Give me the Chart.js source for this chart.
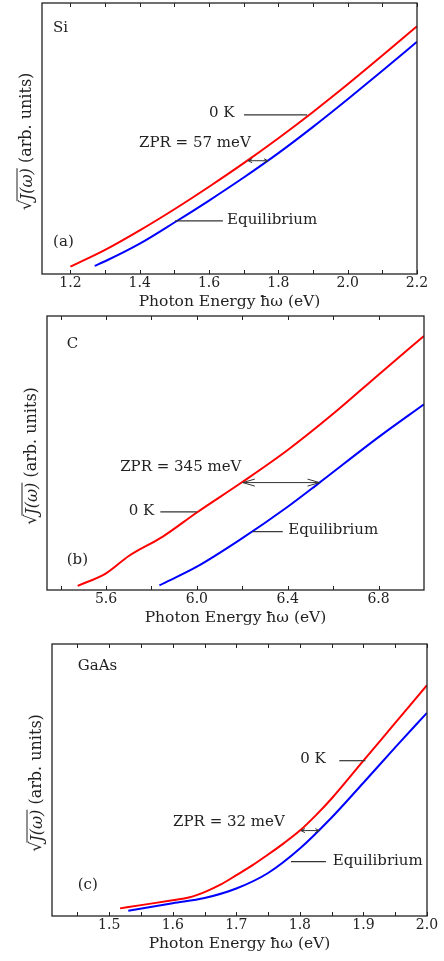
<!DOCTYPE html>
<html>
<head>
<meta charset="utf-8">
<script src="https://cdn.jsdelivr.net/npm/chart.js@4.4.1/dist/chart.umd.min.js"></script>
<style>
  body { margin: 0; background: #fff; }
  canvas { display: block; }
</style>
</head>
<body>
<canvas id="si" width="444" height="310"></canvas>
<canvas id="dia" width="444" height="330"></canvas>
<canvas id="gaas" width="444" height="321"></canvas>
<script>
// (a) Si
const siEnergy0K = [1.2, 1.3, 1.4, 1.5, 1.6, 1.7, 1.8, 1.9, 2.0, 2.1, 2.2];
const si0K = [0.027, 0.089, 0.161, 0.239, 0.322, 0.409, 0.501, 0.598, 0.700, 0.806, 0.914];
const siEnergyEq = [1.27, 1.3, 1.4, 1.5, 1.6, 1.7, 1.8, 1.9, 2.0, 2.1, 2.2];
const siEq = [0.030, 0.047, 0.112, 0.190, 0.271, 0.356, 0.446, 0.543, 0.645, 0.750, 0.857];
const siTicks = [1.2, 1.4, 1.6, 1.8, 2.0, 2.2];
const siMinor = [1.2, 1.3, 1.4, 1.5, 1.6, 1.7, 1.8, 1.9, 2.0, 2.1, 2.2];

// (b) C
const cEnergy0K = [5.475, 5.6, 5.7, 5.85, 6.0, 6.2, 6.4, 6.6, 6.8, 7.0];
const c0K = [0.015, 0.061, 0.124, 0.195, 0.283, 0.394, 0.511, 0.643, 0.786, 0.927];
const cEnergyEq = [5.835, 6.0, 6.187, 6.4, 6.54, 6.8, 7.0];
const cEq = [0.017, 0.085, 0.182, 0.304, 0.392, 0.558, 0.678];
const cTicks = [5.6, 6.0, 6.4, 6.8];
const cMinor = [5.4, 5.6, 5.8, 6.0, 6.2, 6.4, 6.6, 6.8];

// (c) GaAs
const gaasEnergy0K = [1.517, 1.55, 1.6, 1.625, 1.65, 1.675, 1.7, 1.725, 1.75, 1.775, 1.8, 1.825, 1.85, 1.9, 1.95, 2.0];
const gaas0K = [0.028, 0.040, 0.058, 0.068, 0.088, 0.115, 0.150, 0.186, 0.226, 0.268, 0.314, 0.370, 0.432, 0.571, 0.710, 0.849];
const gaasEnergyEq = [1.53, 1.6, 1.65, 1.7, 1.75, 1.8, 1.85, 1.9, 1.95, 2.0];
const gaasEq = [0.019, 0.047, 0.066, 0.101, 0.158, 0.248, 0.362, 0.490, 0.620, 0.747];
const gaasTicks = [1.5, 1.6, 1.7, 1.8, 1.9, 2.0];
const gaasMinor = [1.45, 1.5, 1.55, 1.6, 1.65, 1.7, 1.75, 1.8, 1.85, 1.9, 1.95, 2.0];

// annotations, in data units: [x, y, text], leaders [x1, x2, y], arrows [x1, x2, y]
const siNotes = [[1.150, 0.908, 'Si'], [1.150, 0.118, '(a)'], [1.600, 0.594, '0 K'],
                 [1.398, 0.483, 'ZPR = 57 meV'], [1.652, 0.199, 'Equilibrium']];
const siLeaders = [[1.701, 1.883, 0.587], [1.502, 1.640, 0.196]];
const siArrows = [[1.713, 1.770, 0.418]];

const cNotes = [[5.427, 0.897, 'C'], [5.427, 0.109, '(b)'], [5.662, 0.450, 'ZPR = 345 meV'],
                [5.700, 0.288, '0 K'], [6.402, 0.219, 'Equilibrium']];
const cLeaders = [[5.839, 6.0, 0.285], [6.246, 6.378, 0.213]];
const cArrows = [[6.202, 6.540, 0.392]];

const gaasNotes = [[1.4505, 0.919, 'GaAs'], [1.4505, 0.114, '(c)'], [1.8005, 0.577, '0 K'],
                   [1.6005, 0.347, 'ZPR = 32 meV'], [1.8516, 0.202, 'Equilibrium']];
const gaasLeaders = [[1.862, 1.903, 0.571], [1.786, 1.841, 0.200]];
const gaasArrows = [[1.8016, 1.8305, 0.314]];

const FONT = "'DejaVu Serif', serif";
const INK = '#222';

const zip = (xs, ys) => xs.map((v, i) => ({x: v, y: ys[i]}));

// frame, inward ticks, notes and y title, all placed through the chart scales
const panelPlugin = {
  id: 'panel',
  afterDatasetsDraw(chart, args, opts) {
    const {ctx, chartArea: a, scales: {x, y}} = chart;
    ctx.save();
    ctx.strokeStyle = INK;
    ctx.lineWidth = 1.3;
    ctx.strokeRect(a.left, a.top, a.right - a.left, a.bottom - a.top);

    ctx.lineWidth = 1;
    opts.minor.forEach(v => {
      const px = Math.round(x.getPixelForValue(v)) + 0.5;
      ctx.beginPath();
      ctx.moveTo(px, a.bottom); ctx.lineTo(px, a.bottom - 4);
      ctx.moveTo(px, a.top); ctx.lineTo(px, a.top + 4);
      ctx.stroke();
    });

    ctx.fillStyle = INK;
    ctx.font = '15px ' + FONT;
    ctx.textAlign = 'left';
    ctx.textBaseline = 'middle';
    opts.notes.forEach(([nx, ny, t]) => {
      ctx.fillText(t, x.getPixelForValue(nx), y.getPixelForValue(ny));
    });

    ctx.strokeStyle = '#333';
    ctx.lineWidth = 1.2;
    opts.leaders.forEach(([x1, x2, ly]) => {
      const py = y.getPixelForValue(ly);
      ctx.beginPath();
      ctx.moveTo(x.getPixelForValue(x1), py);
      ctx.lineTo(x.getPixelForValue(x2), py);
      ctx.stroke();
    });

    ctx.lineWidth = 1;
    const [h, k] = opts.head;
    opts.arrows.forEach(([x1, x2, ly]) => {
      const py = y.getPixelForValue(ly);
      const p1 = x.getPixelForValue(x1), p2 = x.getPixelForValue(x2);
      ctx.beginPath();
      ctx.moveTo(p1, py); ctx.lineTo(p2, py);
      ctx.moveTo(p1 + h, py - k); ctx.lineTo(p1, py); ctx.lineTo(p1 + h, py + k);
      ctx.moveTo(p2 - h, py - k); ctx.lineTo(p2, py); ctx.lineTo(p2 - h, py + k);
      ctx.stroke();
    });

    // y title: sqrt(J(omega)) (arb. units), rotated
    ctx.translate(a.left - 15, (a.top + a.bottom) / 2 + 3);
    ctx.rotate(-Math.PI / 2);
    const s1 = '√', s2 = 'J(ω)', s3 = ' (arb. units)';
    ctx.font = '16px ' + FONT;
    const w1 = ctx.measureText(s1).width, w3 = ctx.measureText(s3).width;
    ctx.font = 'italic 16px ' + FONT;
    const w2 = ctx.measureText(s2).width;
    let cx = -(w1 + w2 + w3) / 2;
    ctx.font = '16px ' + FONT;
    ctx.fillText(s1, cx, 0);
    cx += w1;
    ctx.font = 'italic 16px ' + FONT;
    ctx.fillText(s2, cx, 1);
    ctx.lineWidth = 1;
    ctx.strokeStyle = INK;
    ctx.beginPath();
    ctx.moveTo(cx - 1, -10); ctx.lineTo(cx + w2, -10);
    ctx.stroke();
    cx += w2;
    ctx.font = '16px ' + FONT;
    ctx.fillText(s3, cx, 0);
    ctx.restore();
  }
};

function makePanel(id, zero, eq, range, ticks, minor, notes, leaders, arrows, head, pad, axisH) {
  return new Chart(document.getElementById(id), {
    type: 'line',
    data: {
      datasets: [
        {label: '0 K', data: zero, borderColor: '#ff0000', borderWidth: 2,
         pointRadius: 0, cubicInterpolationMode: 'monotone', fill: false},
        {label: 'Equilibrium', data: eq, borderColor: '#0000ff', borderWidth: 2,
         pointRadius: 0, cubicInterpolationMode: 'monotone', fill: false}
      ]
    },
    options: {
      responsive: false,
      animation: false,
      layout: {padding: pad},
      plugins: {
        legend: {display: false},
        tooltip: {enabled: false},
        panel: {minor, notes, leaders, arrows, head}
      },
      scales: {
        x: {
          type: 'linear',
          min: range[0],
          max: range[1],
          afterBuildTicks: axis => { axis.ticks = ticks.map(v => ({value: v})); },
          afterFit: axis => { axis.height = axisH; },
          ticks: {
            font: {family: FONT, size: 14},
            color: INK,
            padding: 1,
            maxRotation: 0,
            autoSkip: false,
            callback: v => v.toFixed(1)
          },
          grid: {display: false, drawTicks: false},
          border: {display: false},
          title: {
            display: true,
            text: 'Photon Energy ħω (eV)',
            font: {family: FONT, size: 15.5, lineHeight: 1},
            color: INK,
            padding: {top: 0, bottom: 0}
          }
        },
        y: {display: false, min: 0, max: 1}
      }
    },
    plugins: [panelPlugin]
  });
}

makePanel('si', zip(siEnergy0K, si0K), zip(siEnergyEq, siEq), [1.118, 2.2],
  siTicks, siMinor, siNotes, siLeaders, siArrows, [4, 2],
  {left: 42, right: 27, top: 3, bottom: 0}, 36);
makePanel('dia', zip(cEnergy0K, c0K), zip(cEnergyEq, cEq), [5.34, 7.0],
  cTicks, cMinor, cNotes, cLeaders, cArrows, [12, 3.5],
  {left: 47, right: 20, top: 6, bottom: 14.5}, 35.5);
makePanel('gaas', zip(gaasEnergy0K, gaas0K), zip(gaasEnergyEq, gaasEq), [1.41, 2.0],
  gaasTicks, gaasMinor, gaasNotes, gaasLeaders, gaasArrows, [4, 2],
  {left: 52, right: 17, top: 4, bottom: 9.5}, 35.5);
</script>
</body>
</html>
